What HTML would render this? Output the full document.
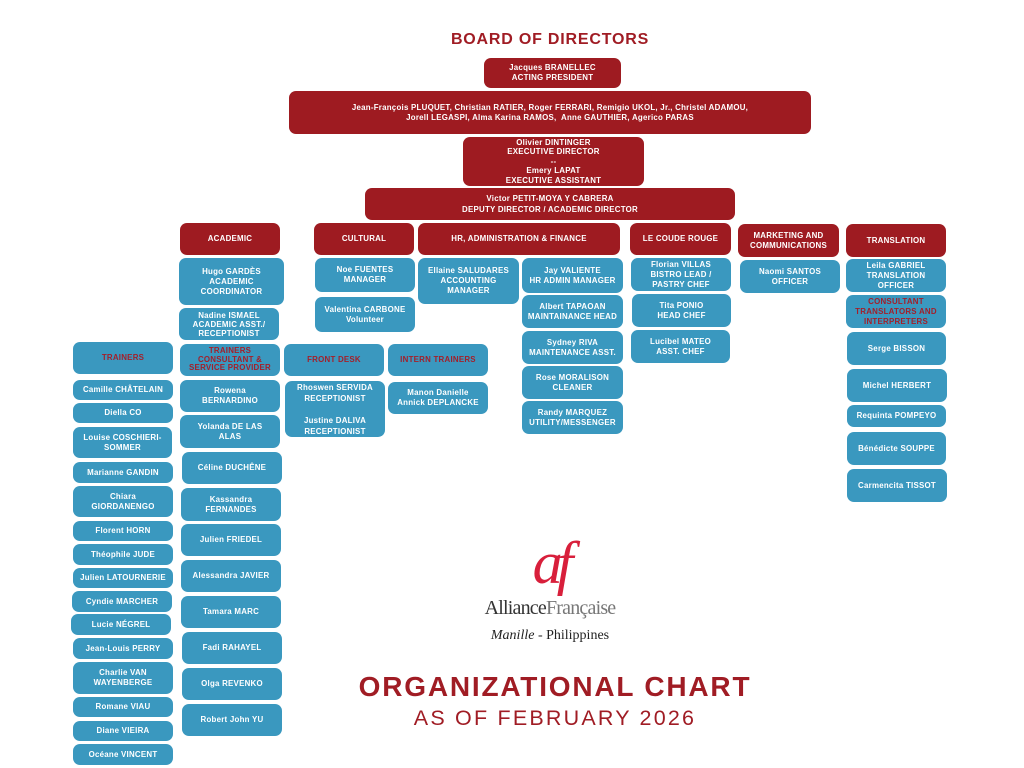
<!DOCTYPE html>
<html><head><meta charset="utf-8"><style>
body{margin:0;width:1024px;height:768px;background:#fff;position:relative;overflow:hidden;font-family:"Liberation Sans",sans-serif}
.x{position:absolute;display:flex;align-items:center;justify-content:center;text-align:center;border-radius:7px;color:#fff;font-weight:bold;font-size:7.9px;line-height:10px;letter-spacing:0.25px;box-sizing:border-box;white-space:nowrap}
.r{background:#9e1b21}
.b{background:#3a98bf}
.t{color:#a31f2a}
</style></head><body>
<div style="position:absolute;left:0;width:1100px;top:31px;text-align:center;font-weight:bold;font-size:16px;color:#a01c24;letter-spacing:0.8px">BOARD OF DIRECTORS</div>

<div class="x r" style="left:484px;top:58px;width:137px;height:30px">Jacques BRANELLEC<br>ACTING PRESIDENT</div>
<div class="x r" style="left:289px;top:91px;width:522px;height:43px">Jean-François PLUQUET, Christian RATIER, Roger FERRARI, Remigio UKOL, Jr., Christel ADAMOU,<br>Jorell LEGASPI, Alma Karina RAMOS,&nbsp; Anne GAUTHIER, Agerico PARAS</div>
<div class="x r" style="left:463px;top:137px;width:181px;height:49px;line-height:9.5px">Olivier DINTINGER<br>EXECUTIVE DIRECTOR<br>--<br>Emery LAPAT<br>EXECUTIVE ASSISTANT</div>
<div class="x r" style="left:365px;top:188px;width:370px;height:32px;line-height:11px">Victor PETIT-MOYA Y CABRERA<br>DEPUTY DIRECTOR / ACADEMIC DIRECTOR</div>

<div class="x r" style="left:180px;top:223px;width:100px;height:32px">ACADEMIC</div>
<div class="x r" style="left:314px;top:223px;width:100px;height:32px">CULTURAL</div>
<div class="x r" style="left:418px;top:223px;width:202px;height:32px">HR, ADMINISTRATION &amp; FINANCE</div>
<div class="x r" style="left:630px;top:223px;width:101px;height:32px">LE COUDE ROUGE</div>
<div class="x r" style="left:738px;top:224px;width:101px;height:33px">MARKETING AND<br>COMMUNICATIONS</div>
<div class="x r" style="left:846px;top:224px;width:100px;height:33px">TRANSLATION</div>

<!-- Academic -->
<div class="x b" style="left:179px;top:258px;width:105px;height:47px">Hugo GARDÈS<br>ACADEMIC<br>COORDINATOR</div>
<div class="x b" style="left:179px;top:308px;width:100px;height:32px;line-height:9px">Nadine ISMAEL<br>ACADEMIC ASST./<br>RECEPTIONIST</div>
<div class="x b t" style="left:180px;top:344px;width:100px;height:32px;line-height:8.5px">TRAINERS<br>CONSULTANT &amp;<br>SERVICE PROVIDER</div>
<div class="x b" style="left:180px;top:380px;width:100px;height:32px">Rowena<br>BERNARDINO</div>
<div class="x b" style="left:180px;top:415px;width:100px;height:33px">Yolanda DE LAS<br>ALAS</div>
<div class="x b" style="left:182px;top:452px;width:100px;height:32px">Céline DUCHÊNE</div>
<div class="x b" style="left:181px;top:488px;width:100px;height:33px">Kassandra<br>FERNANDES</div>
<div class="x b" style="left:181px;top:524px;width:100px;height:32px">Julien FRIEDEL</div>
<div class="x b" style="left:181px;top:560px;width:100px;height:32px">Alessandra JAVIER</div>
<div class="x b" style="left:181px;top:596px;width:100px;height:32px">Tamara MARC</div>
<div class="x b" style="left:182px;top:632px;width:100px;height:32px">Fadi RAHAYEL</div>
<div class="x b" style="left:182px;top:668px;width:100px;height:32px">Olga REVENKO</div>
<div class="x b" style="left:182px;top:704px;width:100px;height:32px">Robert John YU</div>

<!-- Trainers -->
<div class="x b t" style="left:73px;top:342px;width:100px;height:32px">TRAINERS</div>
<div class="x b" style="left:73px;top:380px;width:100px;height:20px">Camille CHÂTELAIN</div>
<div class="x b" style="left:73px;top:403px;width:100px;height:20px">Diella CO</div>
<div class="x b" style="left:73px;top:427px;width:99px;height:31px">Louise COSCHIERI-<br>SOMMER</div>
<div class="x b" style="left:73px;top:462px;width:100px;height:21px">Marianne GANDIN</div>
<div class="x b" style="left:73px;top:486px;width:100px;height:31px">Chiara<br>GIORDANENGO</div>
<div class="x b" style="left:73px;top:521px;width:100px;height:20px">Florent HORN</div>
<div class="x b" style="left:73px;top:544px;width:100px;height:21px">Théophile JUDE</div>
<div class="x b" style="left:73px;top:568px;width:100px;height:20px">Julien LATOURNERIE</div>
<div class="x b" style="left:72px;top:591px;width:100px;height:21px">Cyndie MARCHER</div>
<div class="x b" style="left:71px;top:614px;width:100px;height:21px">Lucie NÉGREL</div>
<div class="x b" style="left:73px;top:638px;width:100px;height:21px">Jean-Louis PERRY</div>
<div class="x b" style="left:73px;top:662px;width:100px;height:32px">Charlie VAN<br>WAYENBERGE</div>
<div class="x b" style="left:73px;top:697px;width:100px;height:20px">Romane VIAU</div>
<div class="x b" style="left:73px;top:721px;width:100px;height:20px">Diane VIEIRA</div>
<div class="x b" style="left:73px;top:744px;width:100px;height:21px">Océane VINCENT</div>

<!-- Cultural -->
<div class="x b" style="left:315px;top:258px;width:100px;height:34px">Noe FUENTES<br>MANAGER</div>
<div class="x b" style="left:315px;top:297px;width:100px;height:35px">Valentina CARBONE<br>Volunteer</div>
<div class="x b t" style="left:284px;top:344px;width:100px;height:32px">FRONT DESK</div>
<div class="x b" style="left:285px;top:381px;width:100px;height:56px;line-height:11px">Rhoswen SERVIDA<br>RECEPTIONIST<br><br>Justine DALIVA<br>RECEPTIONIST</div>
<div class="x b t" style="left:388px;top:344px;width:100px;height:32px">INTERN TRAINERS</div>
<div class="x b" style="left:388px;top:382px;width:100px;height:32px">Manon Danielle<br>Annick DEPLANCKE</div>

<!-- HR -->
<div class="x b" style="left:418px;top:258px;width:101px;height:46px">Ellaine SALUDARES<br>ACCOUNTING<br>MANAGER</div>
<div class="x b" style="left:522px;top:258px;width:101px;height:35px">Jay VALIENTE<br>HR ADMIN MANAGER</div>
<div class="x b" style="left:522px;top:295px;width:101px;height:33px">Albert TAPAOAN<br>MAINTAINANCE HEAD</div>
<div class="x b" style="left:522px;top:331px;width:101px;height:33px">Sydney RIVA<br>MAINTENANCE ASST.</div>
<div class="x b" style="left:522px;top:366px;width:101px;height:33px">Rose MORALISON<br>CLEANER</div>
<div class="x b" style="left:522px;top:401px;width:101px;height:33px">Randy MARQUEZ<br>UTILITY/MESSENGER</div>

<!-- Le Coude -->
<div class="x b" style="left:631px;top:258px;width:100px;height:33px;line-height:10px">Florian VILLAS<br>BISTRO LEAD /<br>PASTRY CHEF</div>
<div class="x b" style="left:632px;top:294px;width:99px;height:33px">Tita PONIO<br>HEAD CHEF</div>
<div class="x b" style="left:631px;top:330px;width:99px;height:33px">Lucibel MATEO<br>ASST. CHEF</div>

<div class="x b" style="left:740px;top:260px;width:100px;height:33px">Naomi SANTOS<br>OFFICER</div>

<!-- Translation -->
<div class="x b" style="left:846px;top:259px;width:100px;height:33px;line-height:10px">Leila GABRIEL<br>TRANSLATION<br>OFFICER</div>
<div class="x b t" style="left:846px;top:295px;width:100px;height:33px;line-height:10px">CONSULTANT<br>TRANSLATORS AND<br>INTERPRETERS</div>
<div class="x b" style="left:847px;top:332px;width:99px;height:33px">Serge BISSON</div>
<div class="x b" style="left:847px;top:369px;width:100px;height:33px">Michel HERBERT</div>
<div class="x b" style="left:847px;top:405px;width:99px;height:22px">Requinta POMPEYO</div>
<div class="x b" style="left:847px;top:432px;width:99px;height:33px">Bénédicte SOUPPE</div>
<div class="x b" style="left:847px;top:469px;width:100px;height:33px">Carmencita TISSOT</div>

<!-- Logo -->
<div style="position:absolute;left:440px;width:220px;top:528px;text-align:center;font-family:'Liberation Serif',serif;font-style:italic;font-size:60px;color:#d81f3b;line-height:70px;letter-spacing:-6px">af</div>
<div style="position:absolute;left:440px;width:220px;top:597px;text-align:center;font-family:'Liberation Serif',serif;font-size:20px;color:#333;letter-spacing:-0.8px">Alliance<span style="color:#777">Française</span></div>
<div style="position:absolute;left:440px;width:220px;top:628px;text-align:center;font-family:'Liberation Serif',serif;font-size:14px;color:#222"><i>Manille</i> - Philippines</div>

<div style="position:absolute;left:0;width:1110px;top:671px;text-align:center;font-weight:bold;font-size:28px;color:#a01c24;letter-spacing:1.8px">ORGANIZATIONAL CHART</div>
<div style="position:absolute;left:0;width:1110px;top:706px;text-align:center;font-size:21.5px;color:#a01c24;letter-spacing:2.2px">AS OF FEBRUARY 2026</div>
</body></html>
